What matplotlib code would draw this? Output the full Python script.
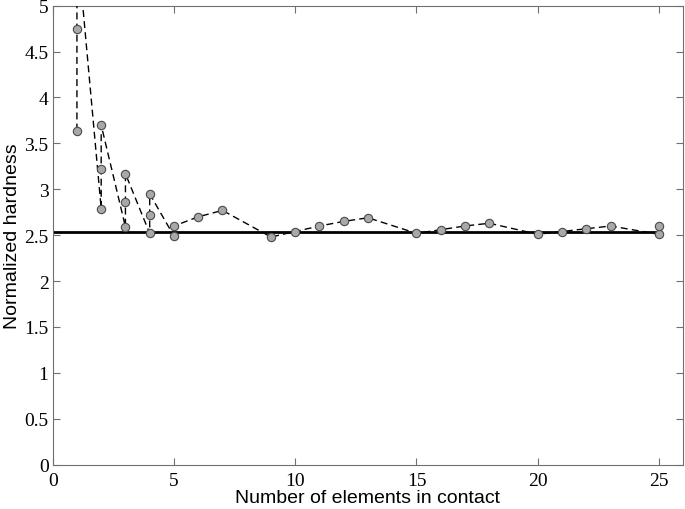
import matplotlib
matplotlib.use("Agg")
import matplotlib.pyplot as plt
from matplotlib.ticker import FuncFormatter

# number of elements in contact, several runs per count (sorted ascending per count)
n_elements = [1, 1, 1, 2, 2, 2, 3, 3, 3, 4, 4, 4, 5, 5, 6, 7, 9, 10, 11, 12, 13,
              15, 16, 17, 18, 20, 21, 22, 23, 25, 25]
hardness = [3.64, 4.75, 5.70, 2.79, 3.22, 3.70, 2.59, 2.86, 3.17, 2.52, 2.72, 2.95,
            2.49, 2.60, 2.70, 2.77, 2.48, 2.54, 2.60, 2.65, 2.69, 2.52, 2.56, 2.60,
            2.63, 2.51, 2.54, 2.57, 2.60, 2.51, 2.60]

# reference (continuum) value
ref_x = [0, 25]
ref_y = [2.54, 2.54]

x_ticks = [0, 5, 10, 15, 20, 25]
y_ticks = [0, 0.5, 1, 1.5, 2, 2.5, 3, 3.5, 4, 4.5, 5]

fig = plt.figure(figsize=(6.85, 5.10), dpi=100)
ax = fig.add_axes([0.0769, 0.0869, 0.9206, 0.9])

ax.plot(ref_x, ref_y, color="black", linewidth=2.0, zorder=2)
ax.plot(n_elements, hardness, linestyle=(0, (5, 3)), color="black", linewidth=1.0,
        marker="o", markersize=6, markerfacecolor="#a8a8a8",
        markeredgecolor="#4a4a4a", markeredgewidth=0.8, zorder=3)

ax.set_xlim(0, 26)
ax.set_ylim(0, 5)
ax.set_xticks(x_ticks)
ax.set_yticks(y_ticks)
ax.yaxis.set_major_formatter(FuncFormatter(lambda v, p: ("%g" % v)))

for s in ax.spines.values():
    s.set_color("#707070")
    s.set_linewidth(0.8)

ax.tick_params(direction="in", top=True, right=True, length=5, width=0.8,
               color="#707070")
ax.tick_params(axis="x", pad=5)
ax.tick_params(axis="y", pad=3)
for lab in ax.get_xticklabels() + ax.get_yticklabels():
    lab.set_fontfamily("Liberation Serif")
    lab.set_fontsize(14)

ax.set_xlabel("Number of elements in contact", fontfamily="Liberation Sans",
              fontsize=14, labelpad=0)
ax.set_ylabel("Normalized hardness", fontfamily="Liberation Sans",
              fontsize=14, labelpad=2)

fig.savefig("out.png", dpi=100)
